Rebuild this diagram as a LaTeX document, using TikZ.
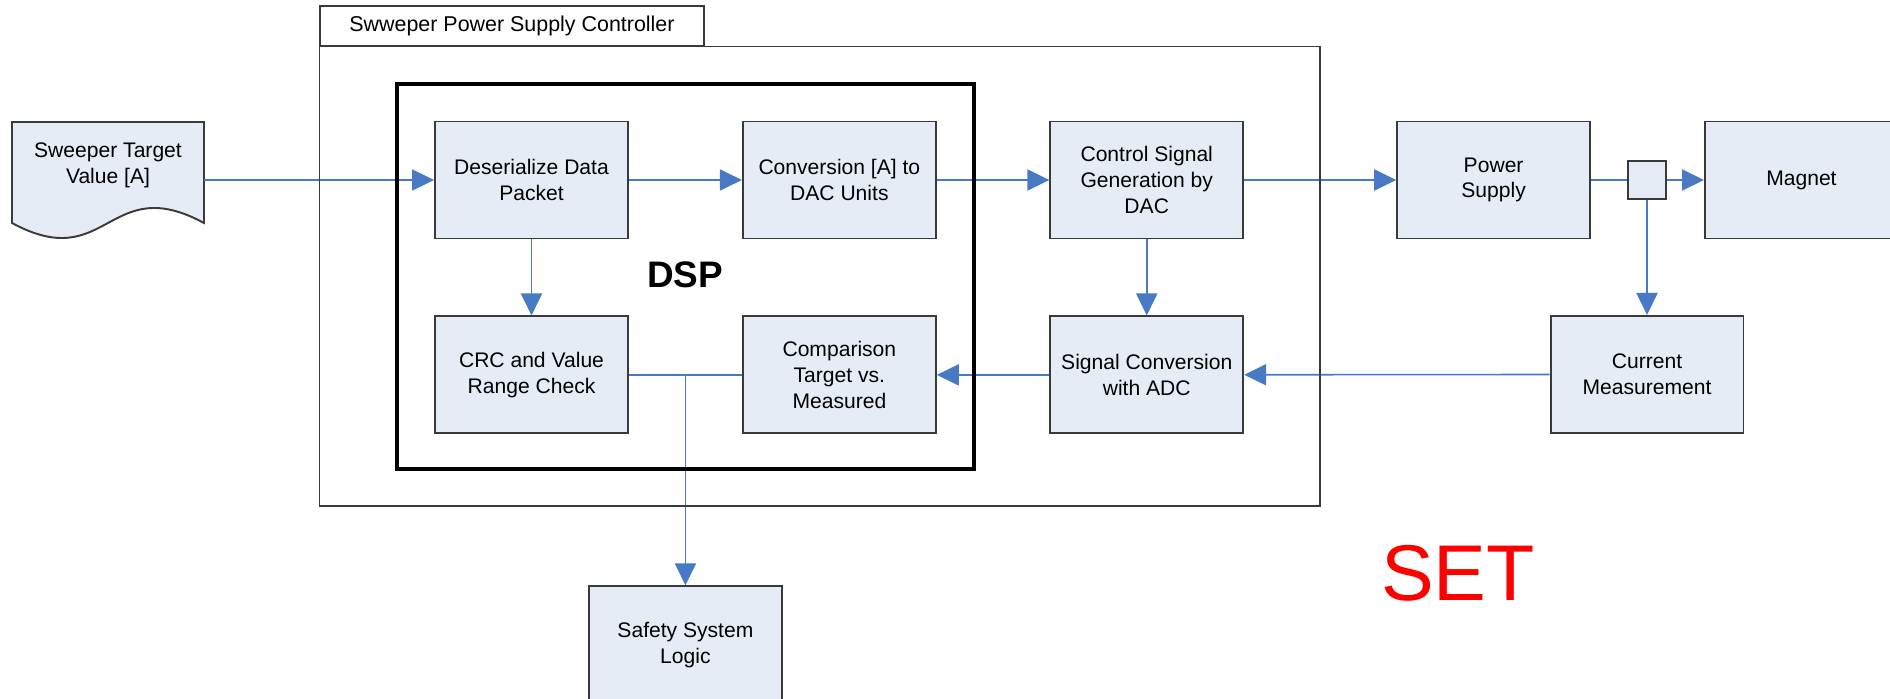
\documentclass[tikz,border=0pt]{standalone}
\usepackage{fontspec}
\setmainfont{Liberation Sans}
\usepackage{tikz}
\usetikzlibrary{
	positioning,
	arrows.meta
}

\definecolor{flowblue}{RGB}{71,121,196}
\definecolor{boxfill}{RGB}{230,236,246}
\definecolor{boxline}{RGB}{58,58,58}

\tikzset{
	blk/.style={draw=boxline,line width=1.1pt,fill=boxfill,
		minimum width=3.86cm,minimum height=2.34cm,inner sep=0pt,
		align=center,font=\fontsize{12}{14.7}\selectfont},
	flow/.style={draw=flowblue,line width=0.9pt,
		-{Triangle[length=12.5pt,width=12pt]}},
	wire/.style={draw=flowblue,line width=0.9pt}
}

\begin{document}
\begin{tikzpicture}[x=0.02cm,y=-0.02cm,node distance=1.52cm and 2.26cm]
		\useasboundingbox (0,0) rectangle (1890,699);
		\clip (0,0) rectangle (1890,699);

		% input document
		\draw[boxline,line width=1.1pt,fill=boxfill]
			(12,122) -- (204,122) -- (204,223)
			.. controls (108,171) and (108,275) .. (12,223) -- cycle;

		\draw
			node[align=center,minimum width=3.84cm,inner sep=0pt,
				font=\fontsize{12}{14.7}\selectfont] (tgt) at (108,165) {Sweeper Target\\Value [A]}
			node[blk] (des) at (531.5,180)       {Deserialize Data\\Packet}
			node[blk,right=of des]          (conv)   {Conversion [A] to\\DAC Units}
			node[blk,right=2.25cm of conv]  (ctrl)   {Control Signal\\Generation by\\DAC}
			node[blk,right=3.04cm of ctrl]  (psu)    {Power\\Supply}
			node[draw=boxline,line width=1.1pt,fill=boxfill,inner sep=0pt,
				minimum size=0.76cm,right=0.72cm of psu] (tap) {}
			node[blk,right=0.74cm of tap]   (magnet) {Magnet}
			node[blk,below=of des]          (crc)    {CRC and Value\\Range Check}
			node[blk,below=of conv]         (cmp)    {Comparison\\Target vs.\\Measured}
			node[blk,below=of ctrl]         (adc)    {Signal Conversion\\with ADC}
			node[blk,below=2.3cm of tap]    (meas)   {Current\\Measurement}

			(tgt.east |- des.west) edge[flow] (des)
			(des)    edge[flow] (conv)
			(conv)   edge[flow] (ctrl)
			(ctrl)   edge[flow] (psu)
			(psu)    edge[wire] (tap)
			(tap)    edge[flow] (magnet)
			(tap)    edge[flow] (meas)
			(des)    edge[flow] (crc)
			(ctrl)   edge[flow] (adc)
			(meas)   edge[flow] (adc)
			(adc)    edge[flow] (cmp)
			(cmp)    edge[wire] (crc)
		;

		\path (crc.east) -- (cmp.west) coordinate[midway] (split);
		\node[blk,below=4.21cm of split] (safe) {Safety System\\Logic};
		\draw[flow] (split) -- (safe);

		% controller and DSP frames
		\node[draw=boxline,line width=0.8pt,minimum width=7.68cm,minimum height=0.8cm,
			font=\fontsize{12.2}{14}\selectfont] (ttl) at (512,26) {Swweper Power Supply Controller};
		\draw[boxline,line width=0.8pt] (ttl.south west) rectangle (1320,506);
		\draw[black,line width=2.5pt] (397,84) rectangle (974,469);
		\node[font=\fontsize{21}{24}\selectfont\bfseries] (dsp) at (685,275) {DSP};

		\node[red,anchor=base,font=\fontsize{45}{50}\selectfont] (set) at (1458,600) {SET};
    \end{tikzpicture}
\end{document}
